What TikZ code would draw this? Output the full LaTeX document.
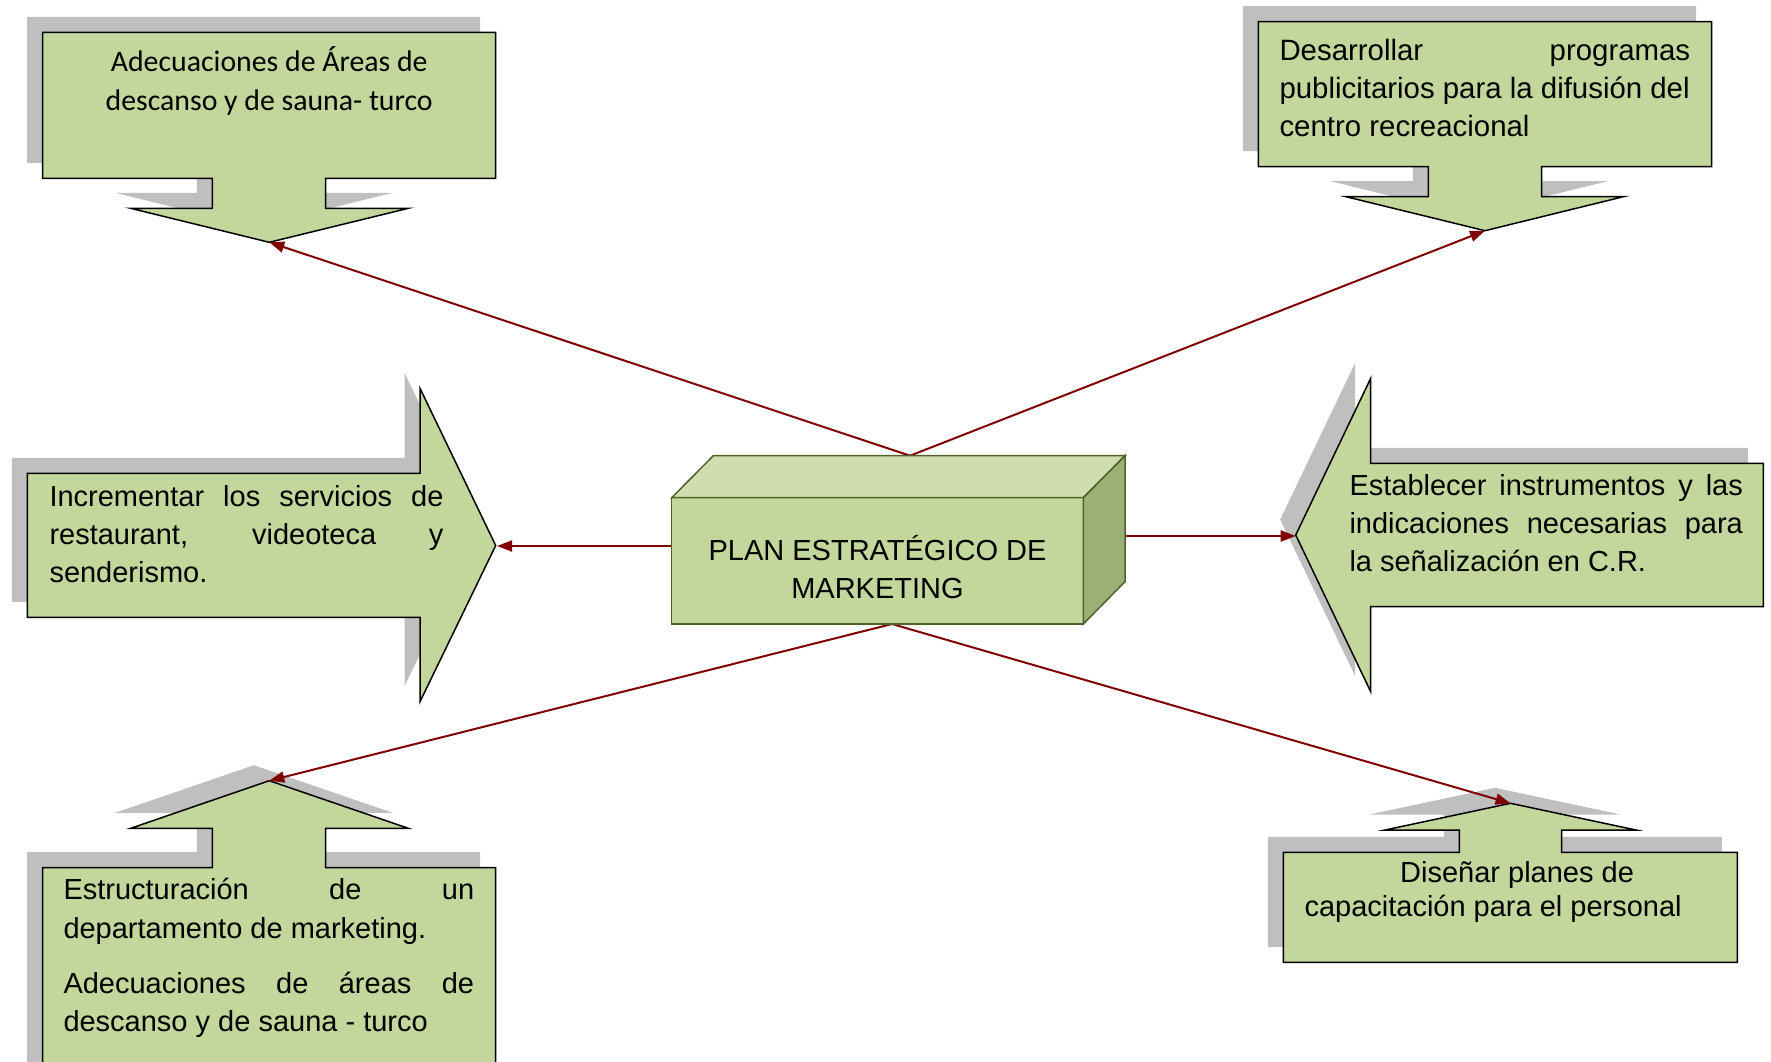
\documentclass[tikz,border=0pt]{standalone}
\usepackage{fontspec}
\setmainfont{Liberation Sans}
\newfontfamily\calibfont{Carlito}
\usetikzlibrary{arrows.meta}
\definecolor{olivefill}{HTML}{C3D69B}
\definecolor{shadowgray}{HTML}{BFBFBF}
\definecolor{boxtopc}{HTML}{CFDDAF}
\definecolor{boxsidec}{HTML}{9BAF77}
\definecolor{boxedge}{HTML}{4F6228}
\definecolor{connred}{HTML}{800000}
\begin{document}
\begin{tikzpicture}[x=1pt,y=-1pt,
  shapebody/.style={fill=olivefill,draw=black,line width=1.5pt,line join=miter},
  shadowbody/.style={fill=shadowgray,shift={(-15.5,-15.5)}},
  boxface/.style={draw=boxedge,line width=1.5pt,line join=miter},
  conn/.style={draw=connred,line width=2pt,-{Triangle[length=15pt,width=11pt]}},
  bodytext/.style={inner sep=0pt,align=left,font=\fontsize{29}{38.3}\selectfont},
]
\useasboundingbox (0,0) rectangle (1771,1061);
\clip (0,0) rectangle (1771,1061);

% path definitions
\def\TLpath{(42.7,32.3) -- (495.7,32.3) -- (495.7,178.3) -- (325.7,178.3) -- (325.7,208.3) -- (408.3,208.3) -- (269.3,242.3) -- (130.7,208.3) -- (212.3,208.3) -- (212.3,178.3) -- (42.7,178.3) -- cycle}
\def\TRpath{(1258.3,21.7) -- (1711.7,21.7) -- (1711.7,166.7) -- (1541.7,166.7) -- (1541.7,196.7) -- (1623.3,196.7) -- (1485,230.7) -- (1346,196.7) -- (1428.3,196.7) -- (1428.3,166.7) -- (1258.3,166.7) -- cycle}
\def\Lpath{(27.3,473.3) -- (420,473.3) -- (420,388.3) -- (495.7,545.5) -- (420,701.7) -- (420,617.3) -- (27.3,617.3) -- cycle}
\def\Rpath{(1763.3,463.3) -- (1370.7,463.3) -- (1370.7,378.3) -- (1295.7,535) -- (1370.7,691.7) -- (1370.7,606.7) -- (1763.3,606.7) -- cycle}
\def\BLpath{(42.7,1080) -- (42.7,867.7) -- (212.3,867.7) -- (212.3,828.3) -- (130.7,828.3) -- (269.3,780.7) -- (408.3,828.3) -- (325.7,828.3) -- (325.7,867.7) -- (495.7,867.7) -- (495.7,1080) -- cycle}
\def\BRpath{(1283.3,962.3) -- (1283.3,852.3) -- (1459.3,852.3) -- (1459.3,830) -- (1385,830) -- (1510.5,803.3) -- (1636,830) -- (1561.7,830) -- (1561.7,852.3) -- (1737.3,852.3) -- (1737.3,962.3) -- cycle}

% shadows
\fill[shadowbody] \TLpath;
\fill[shadowbody] \TRpath;
\fill[shadowbody] \Lpath;
\fill[shadowbody] \Rpath;
\fill[shadowbody] \BLpath;
\fill[shadowbody] \BRpath;
% shapes
\draw[shapebody] \TLpath;
\draw[shapebody] \TRpath;
\draw[shapebody] \Lpath;
\draw[shapebody] \Rpath;
\draw[shapebody] \BLpath;
\draw[shapebody] \BRpath;

% tips
\coordinate (tltip) at (269.3,242.3);
\coordinate (trtip) at (1485,230.7);
\coordinate (ltip) at (497,546);
\coordinate (rtip) at (1295.7,536);
\coordinate (bltip) at (269.3,780.7);
\coordinate (brtip) at (1510.5,803.3);
\coordinate (boxtop) at (910,455.7);
\coordinate (boxbot) at (892,624);
\coordinate (boxleft) at (671.7,546);
\coordinate (boxright) at (1125,536);

% connectors
\draw[conn] (boxtop) -- (tltip);
\draw[conn] (boxtop) -- (trtip);
\draw[conn] (boxleft) -- (ltip);
\draw[conn] (boxright) -- (rtip);
\draw[conn] (boxbot) -- (bltip);
\draw[conn] (boxbot) -- (brtip);

% 3D box
\draw[boxface,fill=olivefill] (671.7,497.7) rectangle (1083.3,624);
\draw[boxface,fill=boxtopc] (671.7,497.7) -- (713.3,455.7) -- (1125,455.7) -- (1083.3,497.7) -- cycle;
\draw[boxface,fill=boxsidec] (1083.3,497.7) -- (1125,455.7) -- (1125,581.7) -- (1083.3,624) -- cycle;
\node[bodytext,align=center,anchor=base] (plan) at (877.5,598.3) {PLAN ESTRATÉGICO DE\\MARKETING};

% texts (base anchor = baseline of the last line)
\node[inner sep=0pt,align=center,anchor=base,font=\calibfont\fontsize{29.8}{39}\selectfont] (tltext) at (269.2,110.7) {Adecuaciones de Áreas de\\descanso y de sauna- turco};
\node[inner sep=0pt,align=left,anchor=base west,font=\fontsize{29.4}{38}\selectfont] (trtext) at (1279.3,136) {\makebox[410.7pt][s]{Desarrollar programas}\\publicitarios para la difusión del\\centro recreacional};
\node[inner sep=0pt,align=left,anchor=base west,font=\fontsize{29}{38}\selectfont] (ltext) at (49.3,582.7) {\makebox[394pt][s]{Incrementar los servicios de}\\\makebox[394pt][s]{restaurant, videoteca y}\\senderismo.};
\node[bodytext,anchor=base west] (rtext) at (1349.3,571.7) {\makebox[393.4pt][s]{Establecer instrumentos y las}\\\makebox[393.4pt][s]{indicaciones necesarias para}\\la señalización en C.R.};
\node[bodytext,anchor=base west] (bltext) at (63.3,1031.7) {\makebox[410.7pt][s]{Estructuración de un}\\departamento de marketing.\\[16.9pt]\makebox[410.7pt][s]{Adecuaciones de áreas de}\\descanso y de sauna - turco};
\node[inner sep=0pt,align=left,anchor=base west,font=\fontsize{29}{34.5}\selectfont] (brtext) at (1304.3,916.7) {\hspace*{95.7pt}Diseñar planes de\\capacitación para el personal};
\end{tikzpicture}
\end{document}
